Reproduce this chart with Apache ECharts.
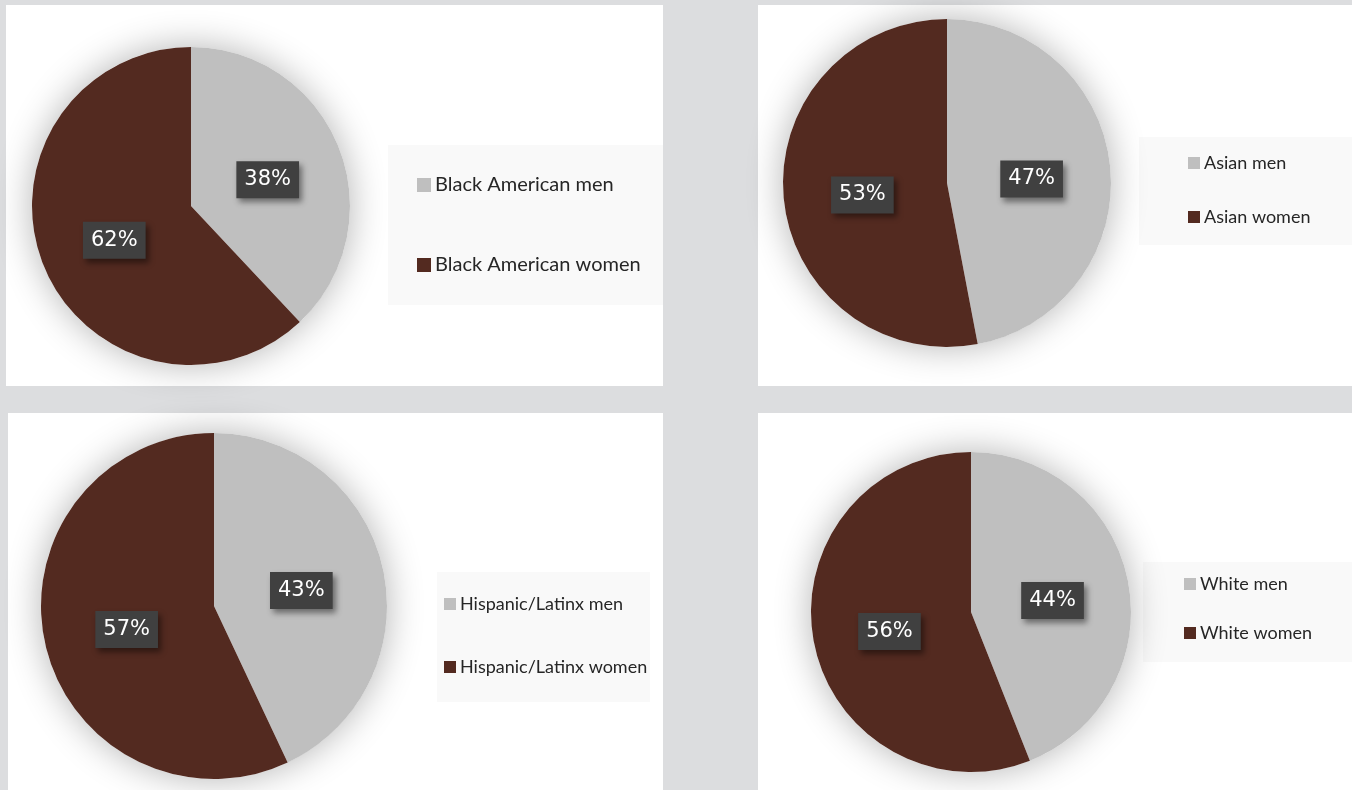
<!DOCTYPE html>
<html>
<head>
<meta charset="utf-8">
<script src="https://cdn.jsdelivr.net/npm/echarts@6/dist/echarts.min.js"></script>
<style>
html, body { margin: 0; padding: 0; background: #dcdddf; }
#main { width: 1352px; height: 790px; }
</style>
</head>
<body>
<div id="main"></div>
<script>
// data, one pie per group
var groups = ['Black American', 'Asian', 'Hispanic/Latinx', 'White']
var menShare = [38, 47, 43, 44]
var womenShare = [62, 53, 57, 56]

var MEN = '#bfbfbf'
var WOMEN = '#532a20'

// layout of each panel (pie center / radius, legend box)
var panels = [
  {box: [6, 5, 657, 381], center: [191, 206], r: 159, leg: [388, 145, 275, 160], legLeft: 417, legTop: 175, gap: 60, font: 20, icon: 14},
  {box: [758, 5, 594, 381], center: [947, 183], r: 164, leg: [1139, 137, 213, 108], legLeft: 1188, legTop: 153, gap: 34, font: 18, icon: 12},
  {box: [8, 413, 655, 377], center: [214, 606], r: 173, leg: [437, 572, 213, 130], legLeft: 444, legTop: 594, gap: 43, font: 18, icon: 12},
  {box: [758, 413, 594, 377], center: [971, 612], r: 160, leg: [1143, 562, 209, 100], legLeft: 1184, legTop: 574, gap: 29, font: 18, icon: 12}
]

var chart = echarts.init(document.getElementById('main'))

var graphics = []
var legends = []
var series = []

panels.forEach(function (p, i) {
  graphics.push({
    type: 'rect', z: -10, silent: true,
    shape: {x: p.box[0], y: p.box[1], width: p.box[2], height: p.box[3]},
    style: {fill: '#ffffff'}
  })
  graphics.push({
    type: 'rect', z: -9, silent: true,
    shape: {x: p.leg[0], y: p.leg[1], width: p.leg[2], height: p.leg[3]},
    style: {fill: '#f9f9f9'}
  })

  var menName = groups[i] + ' men'
  var womenName = groups[i] + ' women'

  legends.push({
    orient: 'vertical',
    left: p.legLeft,
    top: p.legTop,
    padding: 0,
    itemGap: p.gap,
    itemWidth: p.icon,
    itemHeight: p.icon,
    icon: 'rect',
    selectedMode: false,
    data: [menName, womenName],
    textStyle: {
      fontFamily: 'Lato',
      fontSize: p.font,
      lineHeight: 20,
      color: '#262626',
      padding: [0, 0, 0, -1]
    }
  })

  // soft glow under each pie
  series.push({
    type: 'pie',
    silent: true,
    center: p.center,
    radius: [0, p.r],
    z: 1,
    label: {show: false},
    labelLine: {show: false},
    itemStyle: {
      color: '#ffffff',
      shadowBlur: 36,
      shadowColor: 'rgba(0,0,0,0.3)'
    },
    data: [{value: 1, name: 'bg' + i}]
  })

  series.push({
    type: 'pie',
    silent: true,
    legendIndex: i,
    center: p.center,
    radius: [0, p.r],
    startAngle: 90,
    clockwise: true,
    z: 2,
    label: {
      show: true,
      position: 'inside',
      formatter: '{c}%',
      offset: [0, 4],
      color: '#ffffff',
      fontFamily: 'DejaVu Sans',
      fontSize: 21,
      backgroundColor: '#404040',
      padding: [9, 8, 7, 8],
      shadowBlur: 6,
      shadowOffsetX: 3,
      shadowOffsetY: 4,
      shadowColor: 'rgba(0,0,0,0.45)'
    },
    labelLine: {show: false},
    emphasis: {disabled: true},
    data: [
      {value: menShare[i], name: menName, itemStyle: {color: MEN}},
      {value: womenShare[i], name: womenName, itemStyle: {color: WOMEN}}
    ]
  })
})

chart.setOption({
  animation: false,
  backgroundColor: '#dcdddf',
  graphic: graphics,
  legend: legends,
  series: series
})
</script>
</body>
</html>
